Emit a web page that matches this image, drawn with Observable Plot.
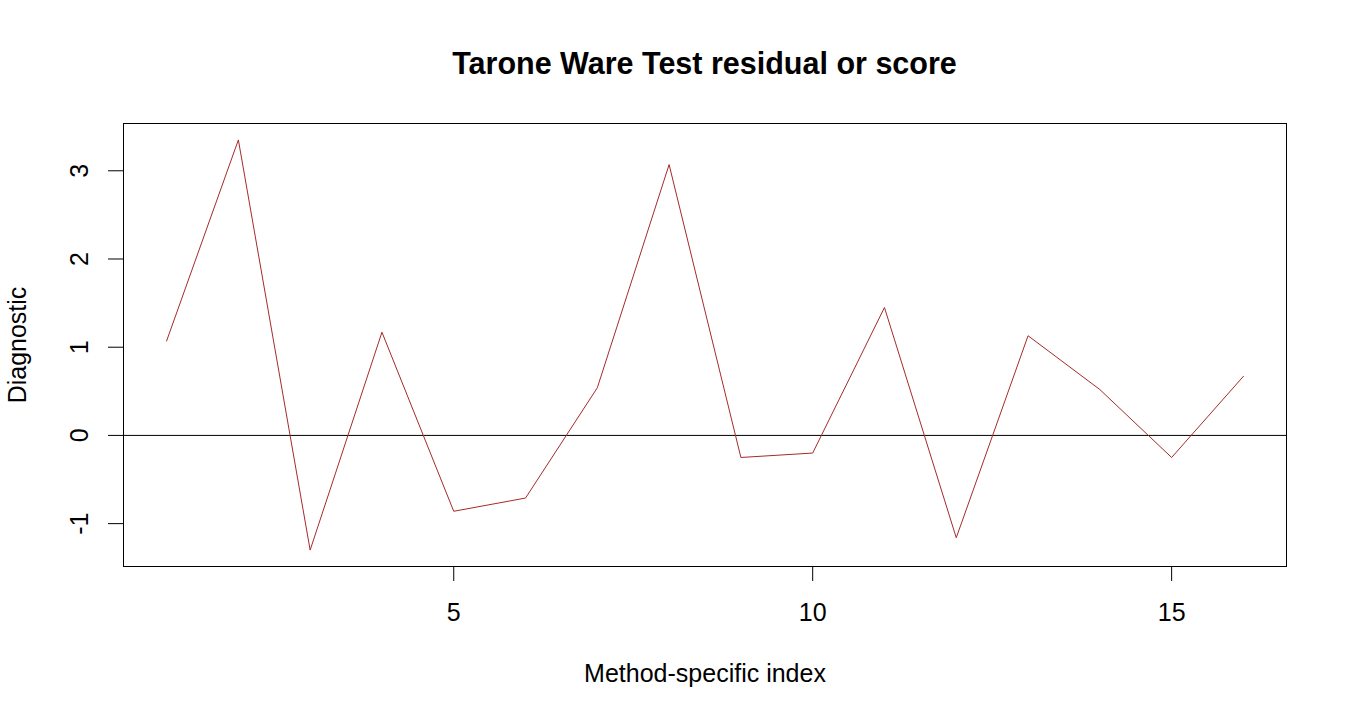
<!DOCTYPE html>
<html><head><meta charset="utf-8">
<script src="https://cdn.jsdelivr.net/npm/d3@7"></script>
<script src="https://cdn.jsdelivr.net/npm/@observablehq/plot@0.6"></script>
<style>
body{margin:0;background:#fff;font-family:"Liberation Sans",Arial,sans-serif;}
#wrap{width:1350px;height:720px;position:relative;overflow:hidden;}
#title{position:absolute;left:123px;width:1163px;top:48px;text-align:center;font-size:30.5px;line-height:30.5px;font-weight:bold;color:#000;}
#chart{position:absolute;left:0;top:100px;}
</style></head><body>
<div id="wrap"><div id="title">Tarone Ware Test residual or score</div><div id="chart"></div></div>
<script>
const index = [1, 2, 3, 4, 5, 6, 7, 8, 9, 10, 11, 12, 13, 14, 15, 16];
const values = [1.07, 3.35, -1.30, 1.17, -0.86, -0.71, 0.54, 3.07, -0.25, -0.20, 1.45, -1.16, 1.13, 0.52, -0.25, 0.67];
const xTicks = [5, 10, 15];
const yTicks = [-1, 0, 1, 2, 3];
const xLabel = "Method-specific index";
const yLabel = "Diagnostic";

const data = index.map((i, k) => ({i, v: values[k]}));
const pad = e => { const d = (e[1] - e[0]) * 0.04; return [e[0] - d, e[1] + d]; };

const chart = Plot.plot({
  width: 1350, height: 620,
  marginTop: 23, marginBottom: 154, marginLeft: 123, marginRight: 64,
  x: {domain: pad(d3.extent(index))},
  y: {domain: pad(d3.extent(values))},
  style: {fontFamily: "'Liberation Sans', Arial, sans-serif", fontSize: "25px", color: "black", background: "white", overflow: "visible"},
  marks: [
    Plot.frame({stroke: "black", strokeWidth: 1}),
    Plot.ruleY([0], {stroke: "black", strokeWidth: 1}),
    Plot.line(data, {x: "i", y: "v", stroke: "#a52a2a", strokeWidth: 1}),
    Plot.axisX({ticks: xTicks, tickSize: 15, tickPadding: 22, label: null, fontSize: 25, stroke: "black", strokeOpacity: 1}),
    Plot.axisY({ticks: yTicks, tickSize: 15, tickFormat: () => "", label: null, stroke: "black", strokeOpacity: 1}),
    Plot.text(yTicks, {y: d => d, text: d => String(d), frameAnchor: "left", dx: -44, rotate: -90, textAnchor: "middle", lineAnchor: "middle", fontSize: 25, fill: "black"}),
    Plot.text([yLabel], {frameAnchor: "left", dx: -106, rotate: -90, textAnchor: "middle", lineAnchor: "middle", fontSize: 25, fill: "black"}),
    Plot.text([xLabel], {frameAnchor: "bottom", dy: 107, textAnchor: "middle", lineAnchor: "middle", fontSize: 25, fill: "black"})
  ]
});
document.getElementById("chart").appendChild(chart);
</script>
</body></html>
